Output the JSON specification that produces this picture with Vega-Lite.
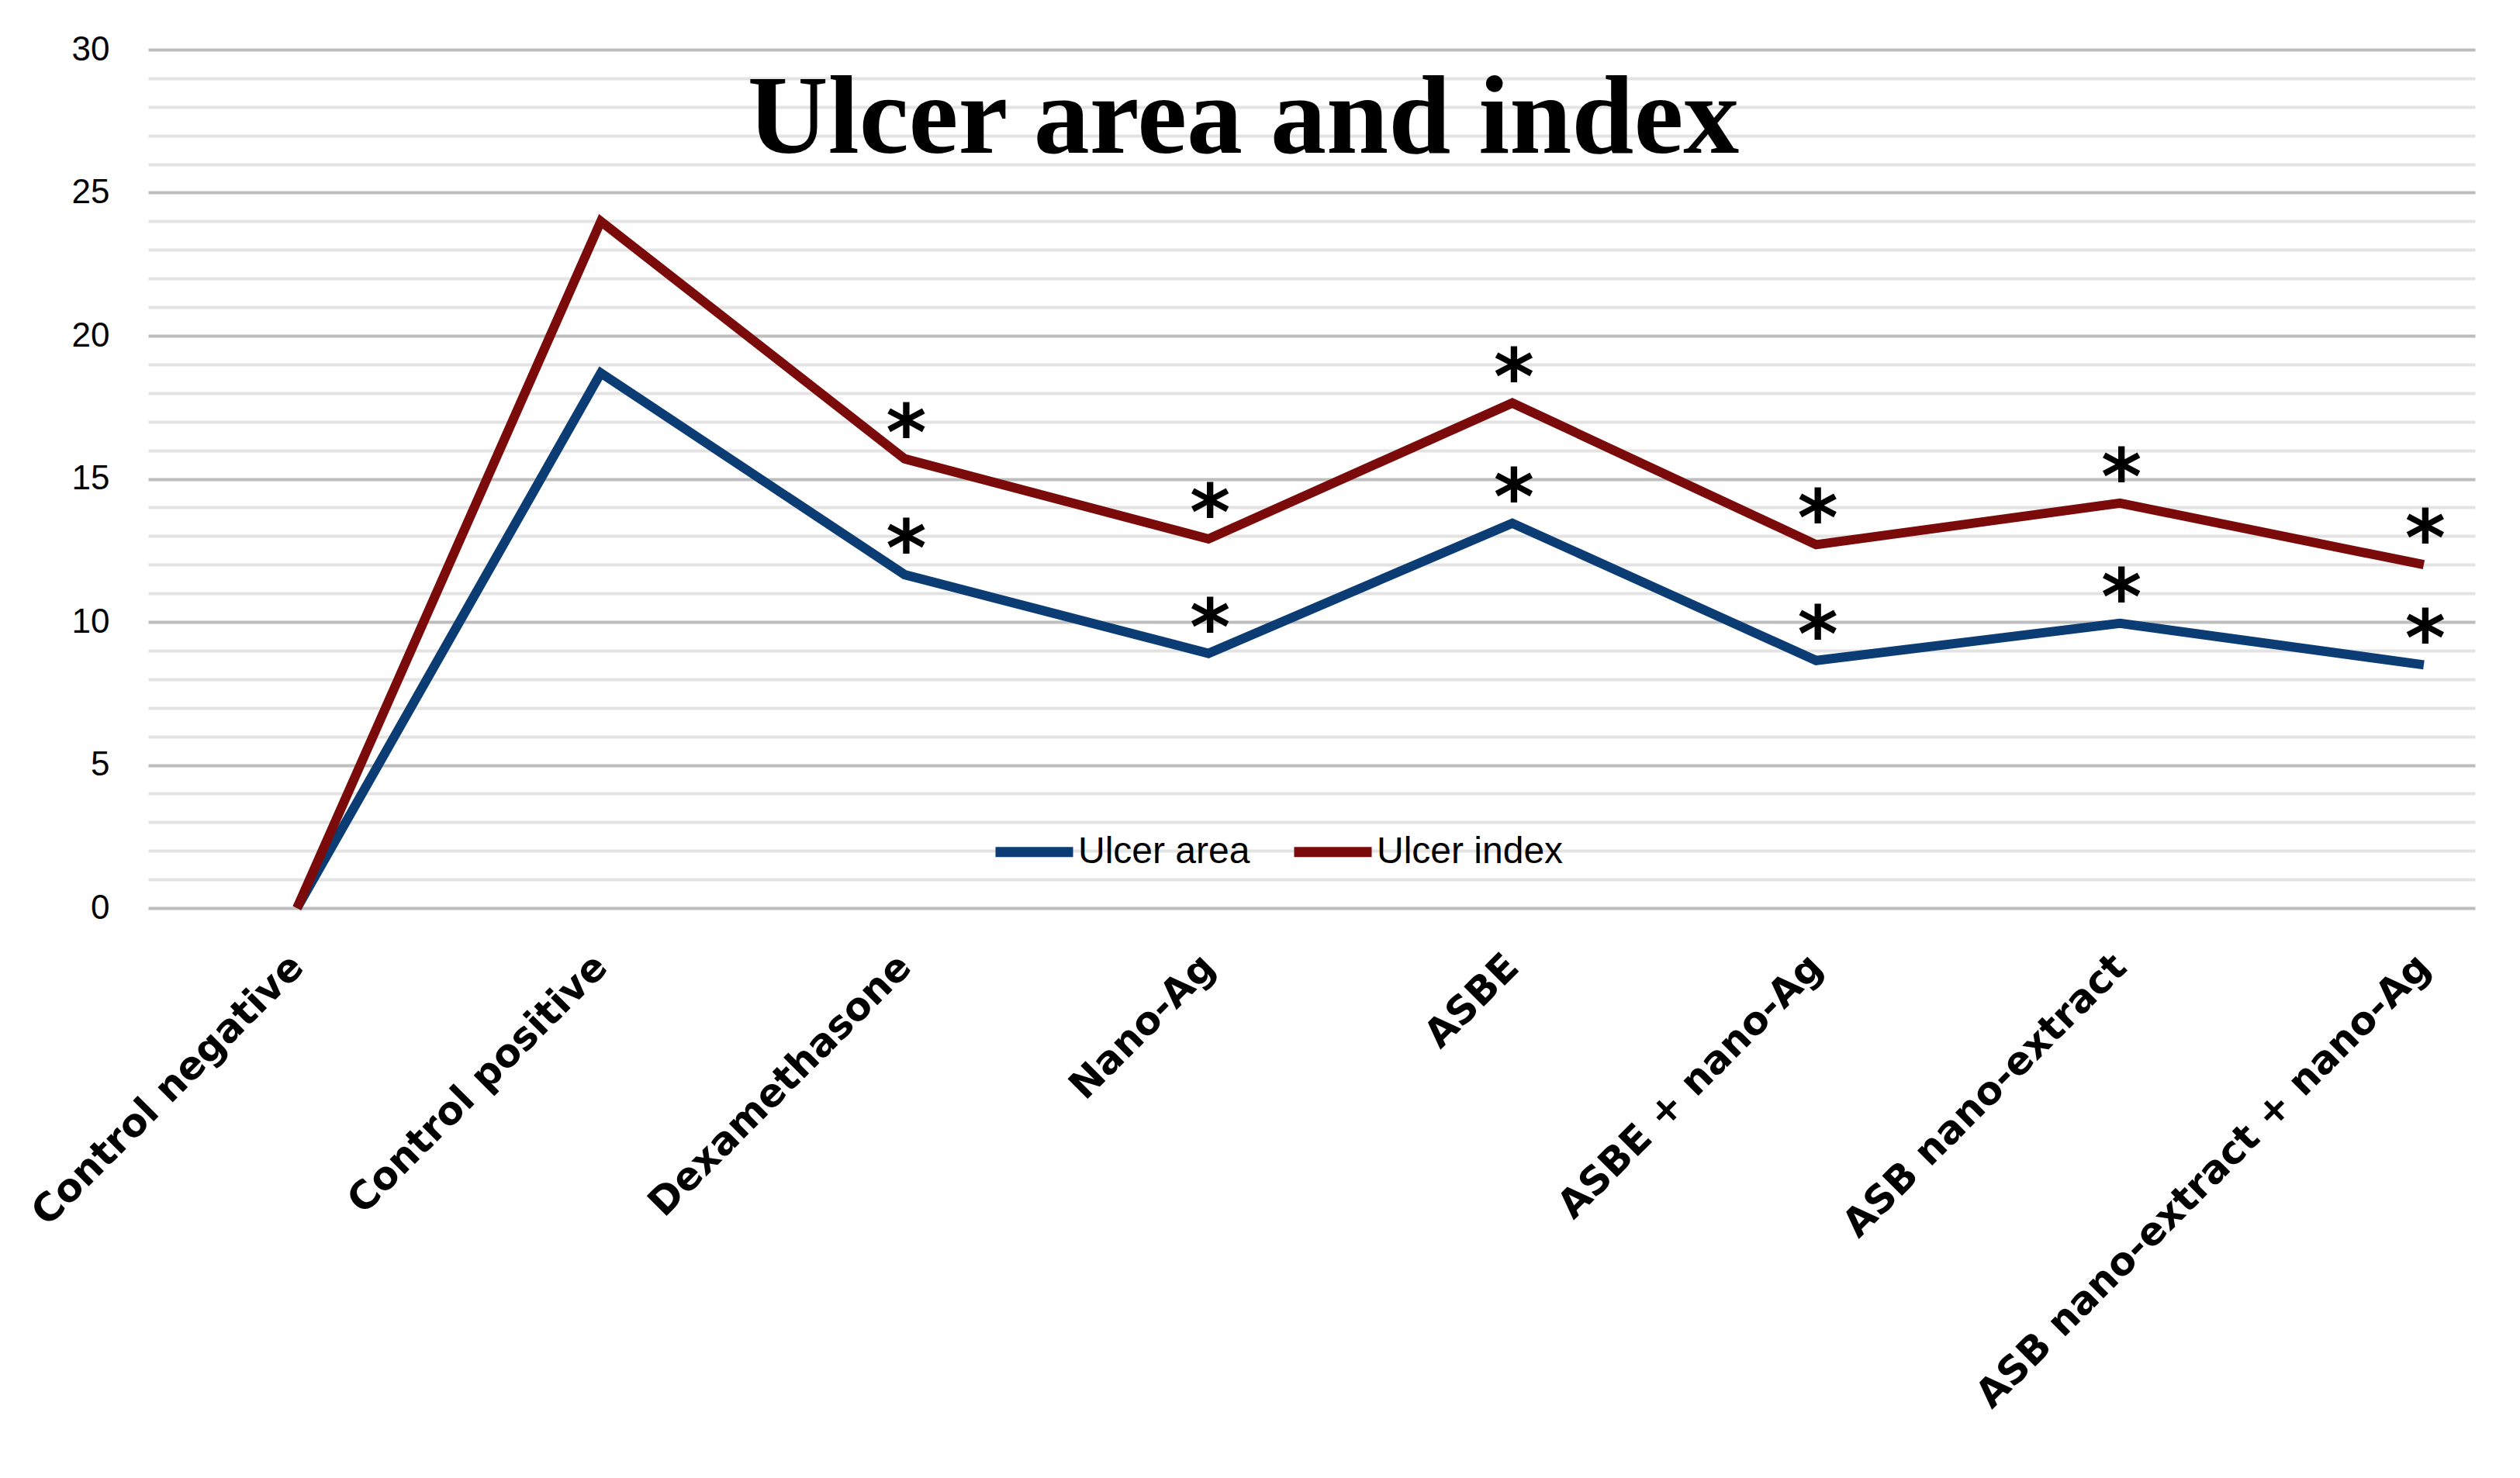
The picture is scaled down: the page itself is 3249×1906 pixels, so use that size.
{
  "$schema": "https://vega.github.io/schema/vega-lite/v6.json",
  "width": 3000,
  "height": 1107,
  "autosize": {"type": "none"},
  "padding": {"left": 191, "top": 64, "right": 58, "bottom": 735},
  "background": "white",
  "config": {"view": {"stroke": null}},
  "title": {
    "text": "Ulcer area and index",
    "font": "Liberation Serif",
    "fontSize": 144,
    "fontWeight": "bold",
    "color": "#000000",
    "anchor": "middle",
    "dx": -88,
    "dy": 128,
    "offset": -171,
    "baseline": "alphabetic"
  },
  "data": {
    "values": [
      {"group": "Control negative", "series": "Ulcer area", "value": 0, "sig": ""},
      {"group": "Control positive", "series": "Ulcer area", "value": 18.7, "sig": ""},
      {"group": "Dexamethasone", "series": "Ulcer area", "value": 11.65, "sig": "*"},
      {"group": "Nano-Ag", "series": "Ulcer area", "value": 8.9, "sig": "*"},
      {"group": "ASBE", "series": "Ulcer area", "value": 13.45, "sig": "*"},
      {"group": "ASBE + nano-Ag", "series": "Ulcer area", "value": 8.65, "sig": "*"},
      {"group": "ASB nano-extract", "series": "Ulcer area", "value": 9.95, "sig": "*"},
      {"group": "ASB nano-extract + nano-Ag", "series": "Ulcer area", "value": 8.5, "sig": "*"},
      {"group": "Control negative", "series": "Ulcer index", "value": 0, "sig": ""},
      {"group": "Control positive", "series": "Ulcer index", "value": 24.0, "sig": ""},
      {"group": "Dexamethasone", "series": "Ulcer index", "value": 15.7, "sig": "*"},
      {"group": "Nano-Ag", "series": "Ulcer index", "value": 12.9, "sig": "*"},
      {"group": "ASBE", "series": "Ulcer index", "value": 17.65, "sig": "*"},
      {"group": "ASBE + nano-Ag", "series": "Ulcer index", "value": 12.7, "sig": "*"},
      {"group": "ASB nano-extract", "series": "Ulcer index", "value": 14.15, "sig": "*"},
      {"group": "ASB nano-extract + nano-Ag", "series": "Ulcer index", "value": 12.0, "sig": "*"}
    ]
  },
  "encoding": {
    "x": {
      "field": "group",
      "type": "nominal",
      "sort": ["Control negative", "Control positive", "Dexamethasone", "Nano-Ag", "ASBE", "ASBE + nano-Ag", "ASB nano-extract", "ASB nano-extract + nano-Ag"],
      "scale": {"type": "point", "padding": 0.3293, "align": 0.744},
      "axis": {
        "title": null,
        "domain": false,
        "ticks": false,
        "grid": false,
        "labelAngle": -45,
        "labelAlign": "right",
        "labelBaseline": "middle",
        "labelFont": "DejaVu Sans",
        "labelFontWeight": "bold",
        "labelFontSize": 50,
        "labelColor": "#000000",
        "labelPadding": 68,
        "labelLimit": 2000
      }
    }
  },
  "layer": [
    {
      "mark": {"type": "line", "strokeWidth": 12, "strokeJoin": "miter"},
      "encoding": {
        "y": {
          "field": "value",
          "type": "quantitative",
          "scale": {"domain": [0, 30], "nice": false},
          "axis": {
            "title": null,
            "values": [0, 5, 10, 15, 20, 25, 30],
            "grid": true,
            "gridColor": "#bdbdbd",
            "gridWidth": 4,
            "domain": false,
            "ticks": false,
            "labelFont": "Liberation Sans",
            "labelFontSize": 44,
            "labelColor": "#000000",
            "labelPadding": 50
          }
        },
        "color": {
          "field": "series",
          "type": "nominal",
          "scale": {"domain": ["Ulcer area", "Ulcer index"], "range": ["#0b3c73", "#7b0b0b"]},
          "legend": {
            "title": null,
            "orient": "none",
            "direction": "horizontal",
            "legendX": 1086,
            "legendY": 978,
            "symbolType": "stroke",
            "symbolSize": 10000,
            "symbolStrokeWidth": 13,
            "labelFont": "Liberation Sans",
            "labelFontSize": 48,
            "labelColor": "#000000",
            "labelOffset": 0,
            "labelLimit": 1000,
            "columnPadding": 30
          }
        }
      }
    },
    {
      "transform": [{"filter": "datum.sig === '*'"}],
      "mark": {"type": "text", "font": "DejaVu Sans", "fontSize": 100, "fontWeight": "bold", "baseline": "alphabetic", "dy": 1, "dx": 2, "color": "#000000"},
      "encoding": {
        "y": {
          "field": "value",
          "type": "quantitative",
          "axis": {
            "title": null,
            "values": [1, 2, 3, 4, 6, 7, 8, 9, 11, 12, 13, 14, 16, 17, 18, 19, 21, 22, 23, 24, 26, 27, 28, 29],
            "grid": true,
            "gridColor": "#e3e3e3",
            "gridWidth": 4,
            "domain": false,
            "ticks": false,
            "labels": false
          }
        },
        "text": {"field": "sig"}
      }
    }
  ],
  "resolve": {"axis": {"y": "independent"}}
}
